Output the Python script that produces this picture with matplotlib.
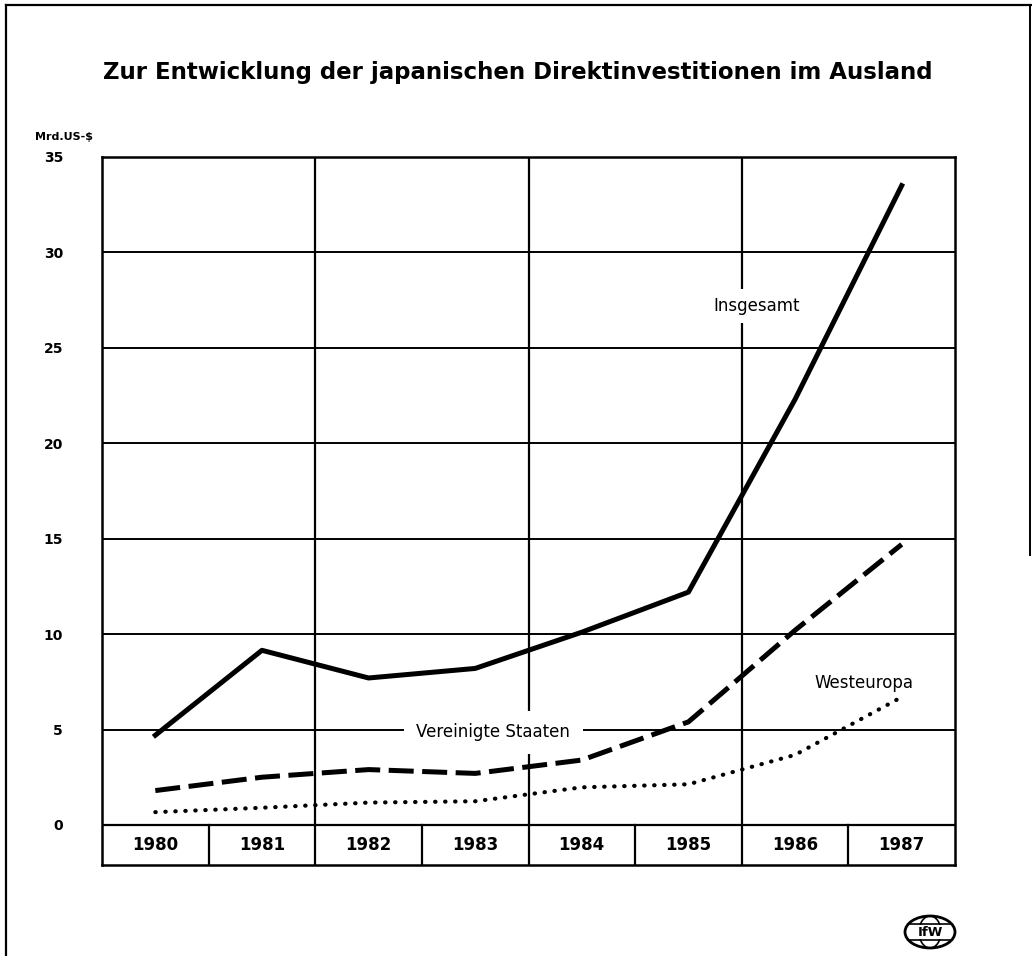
import matplotlib.pyplot as plt
from matplotlib.patches import Ellipse

# Daten (Mrd. US-$)
years = [1980, 1981, 1982, 1983, 1984, 1985, 1986, 1987]
insgesamt = [4.7, 9.15, 7.7, 8.2, 10.1, 12.2, 22.3, 33.5]
usa = [1.8, 2.5, 2.9, 2.7, 3.4, 5.4, 10.2, 14.7]
westeuropa = [0.67, 0.9, 1.17, 1.24, 1.97, 2.13, 3.67, 6.7]
yticks = [0, 5, 10, 15, 20, 25, 30, 35]

title = "Zur Entwicklung der japanischen Direktinvestitionen im Ausland"

fig = plt.figure(figsize=(10.32, 9.56), dpi=100)
ax = fig.add_axes([102 / 1032, 1 - 865 / 956, 853 / 1032, 708 / 956])

band = -2.1
ax.set_xlim(years[0] - 0.5, years[-1] + 0.5)
ax.set_ylim(band, 35)

# Gitter
for y in yticks[1:-1]:
    ax.axhline(y, color='black', lw=1.4, zorder=1)
ax.axhline(0, color='black', lw=1.6, zorder=1)
for i, yr in enumerate(years[:-1]):
    x = yr + 0.5
    top = 35 if i % 2 == 1 else 0
    ax.plot([x, x], [band, top], color='black', lw=1.6, zorder=1)

for s in ax.spines.values():
    s.set_linewidth(1.8)

# Jahreszahlen im Band
for yr in years:
    ax.text(yr, band / 2, str(yr), ha='center', va='center', fontsize=12, fontweight='bold')

ax.set_xticks([])
ax.set_yticks(yticks)
ax.set_yticklabels([str(v) for v in yticks], fontsize=10, fontweight='bold')
ax.tick_params(axis='y', length=0, pad=28)

# Linien
ax.plot(years, insgesamt, color='black', lw=3.6, solid_joinstyle='round', zorder=3)
ax.plot(years, usa, color='black', lw=3.6, linestyle=(0, (5, 1.7)), zorder=3)
ax.plot(years, westeuropa, color='black', lw=3.0, linestyle=(0, (0.1, 2.3)),
        dash_capstyle='round', zorder=3)

box = dict(facecolor='white', edgecolor='none', pad=6)
ax.text(1985.64, 27.2, "Insgesamt", ha='center', va='center', fontsize=12, bbox=box, zorder=2)
ax.text(1983.17, 4.85, "Vereinigte Staaten", ha='center', va='center', fontsize=12,
        bbox=dict(facecolor='white', edgecolor='none', pad=9), zorder=2)
ax.text(1986.65, 7.45, "Westeuropa", ha='center', va='center', fontsize=12, zorder=2)

fig.text(518 / 1032, 1 - 72 / 956, title, ha='center', va='center', fontsize=16.5, fontweight='bold')
fig.text(35 / 1032, 1 - 137 / 956, "Mrd.US-$", ha='left', va='center', fontsize=8, fontweight='bold')

# Rahmen
fig.add_artist(plt.Line2D([6 / 1032, 6 / 1032], [0, 1 - 5 / 956], color='black', lw=1.6))
fig.add_artist(plt.Line2D([6 / 1032, 1], [1 - 5 / 956, 1 - 5 / 956], color='black', lw=1.6))
fig.add_artist(plt.Line2D([1030 / 1032, 1030 / 1032], [1 - 555 / 956, 1 - 5 / 956], color='black', lw=1.4))

# IfW-Logo
lx, ly = 930 / 1032, 1 - 932 / 956
fig.add_artist(Ellipse((lx, ly), 50 / 1032, 32 / 956, transform=fig.transFigure,
                       facecolor='white', edgecolor='black', lw=2.0))
fig.add_artist(Ellipse((lx, ly), 22 / 1032, 32 / 956, transform=fig.transFigure,
                       facecolor='none', edgecolor='black', lw=1.2))
fig.add_artist(plt.Line2D([lx - 22 / 1032, lx + 22 / 1032], [ly + 8 / 956, ly + 8 / 956], color='black', lw=1.2))
fig.add_artist(plt.Line2D([lx - 22 / 1032, lx + 22 / 1032], [ly - 8 / 956, ly - 8 / 956], color='black', lw=1.2))
fig.text(lx, ly, "IfW", ha='center', va='center', fontsize=9.5, fontweight='bold',
         bbox=dict(facecolor='white', edgecolor='none', pad=0.5))

plt.savefig('out.png', dpi=100)
